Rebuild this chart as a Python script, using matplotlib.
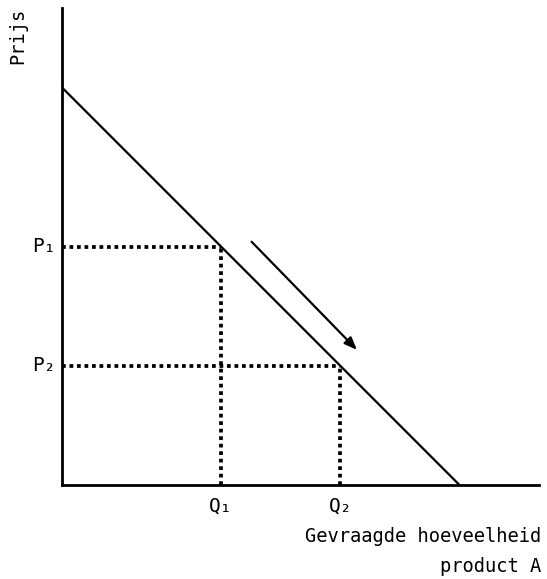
import matplotlib
matplotlib.use("Agg")
import matplotlib.pyplot as plt

# vraaglijn: P = 10 - Q
vraag_q = [0, 10]
vraag_p = [10, 0]

# twee punten op de vraaglijn
punt_q = [4, 7]
punt_p = [6, 3]
p_labels = ["P₁", "P₂"]
q_labels = ["Q₁", "Q₂"]

# pijl langs de lijn
pijl_start = (4.77, 6.12)
pijl_eind = (7.42, 3.40)

plt.rcParams['font.family'] = ['DejaVu Sans Mono', 'DejaVu Sans']

fig = plt.figure(figsize=(5.47, 5.79), dpi=100)
ax = fig.add_axes([62 / 547, 94 / 579, 477 / 547, 477 / 579])
ax.set_xlim(0, 12)
ax.set_ylim(0, 12)

for side in ["top", "right"]:
    ax.spines[side].set_visible(False)
for side in ["left", "bottom"]:
    ax.spines[side].set_linewidth(2)
ax.set_xticks([])
ax.set_yticks([])

ax.plot(vraag_q, vraag_p, color="black", lw=1.6, solid_capstyle="butt")

for q, p, pl, ql in zip(punt_q, punt_p, p_labels, q_labels):
    ax.plot([0, q], [p, p], color="black", lw=2.7, linestyle=(0, (1, 1)),
            dash_capstyle="butt")
    ax.plot([q, q], [0, p], color="black", lw=2.7, linestyle=(0, (1, 1)),
            dash_capstyle="butt")
    ax.text(-0.15, p, pl, ha="right", va="center", fontsize=14, clip_on=False)
    ax.text(q, -0.3, ql, ha="center", va="top", fontsize=14, clip_on=False)

ax.annotate("", xy=pijl_eind, xytext=pijl_start,
            arrowprops=dict(arrowstyle="-|>,head_length=0.5,head_width=0.2",
                            color="black", lw=1.6,
                            mutation_scale=15, shrinkA=0, shrinkB=0))

fig.text(18 / 547, 1 - 36 / 579, "Prijs", rotation=90, ha="center",
         va="center", fontsize=13.5)
fig.text(541 / 547, 1 - 536 / 579, "Gevraagde hoeveelheid", ha="right",
         va="center", fontsize=13.5)
fig.text(541 / 547, 1 - 566 / 579, "product A", ha="right",
         va="center", fontsize=13.5)

fig.savefig("out.png", dpi=100)
